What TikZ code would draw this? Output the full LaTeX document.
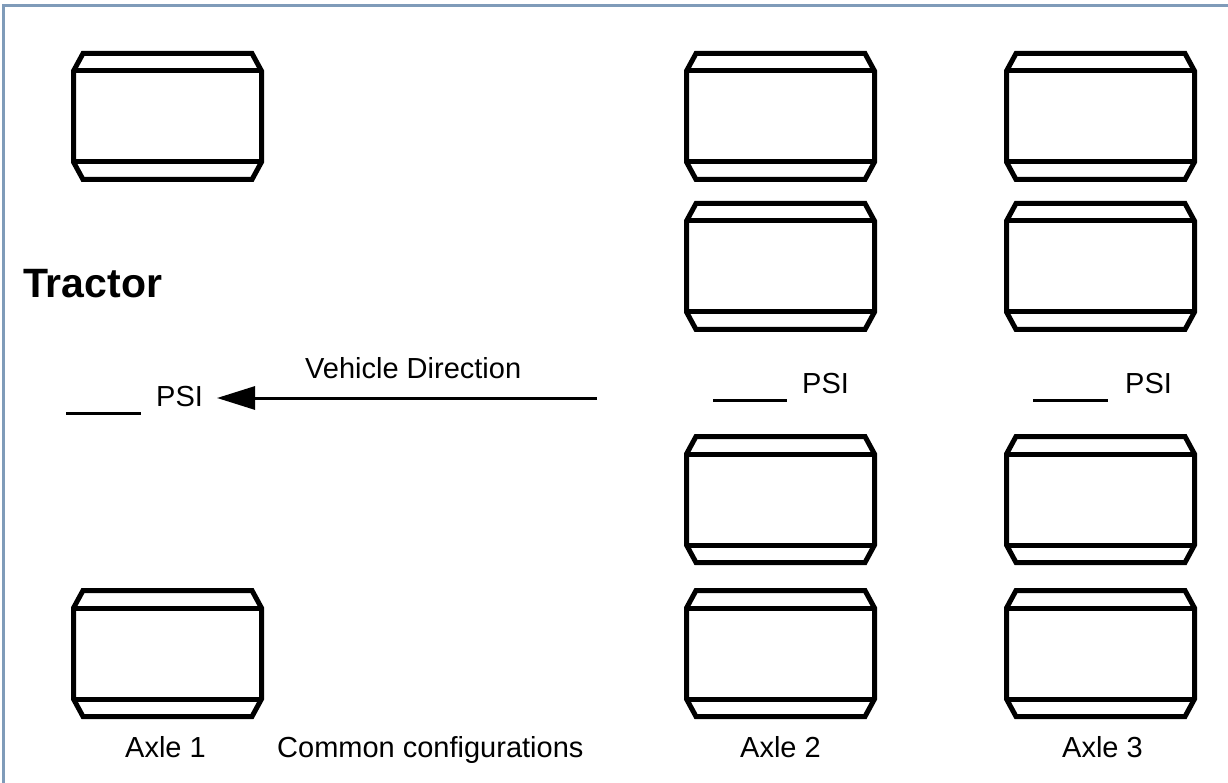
\documentclass[tikz,border=0pt]{standalone}
\usepackage{fontspec}
\setmainfont{Liberation Sans}
\usetikzlibrary{arrows.meta}
\definecolor{frameblue}{RGB}{127,155,185}
\tikzset{
  tireline/.style={line width=5pt, draw=black, line join=miter},
  lbl/.style={anchor=base west, inner sep=0pt, font=\fontsize{29}{34}\selectfont},
  blank/.style={line width=3pt},
  pics/tire/.style={code={
    \draw[tireline] (2.5,20) -- (12,2.5) -- (181,2.5) -- (190.5,20) -- (190.5,111)
      -- (181,128.5) -- (12,128.5) -- (2.5,111) -- cycle;
    \draw[tireline] (2.5,20) -- (190.5,20);
    \draw[tireline] (2.5,111) -- (190.5,111);
  }}
}
\begin{document}
\begin{tikzpicture}[x=1pt,y=-1pt]
\useasboundingbox (0,0) rectangle (1228,783);
% frame (top and left)
\draw[frameblue, line width=3pt] (3.5,783) -- (3.5,5.5) -- (1228,5.5);
% tyres
\pic at (71,51) {tire};
\pic at (71,588) {tire};
\pic at (684,51) {tire};
\pic at (684,201) {tire};
\pic at (684,434) {tire};
\pic at (684,588) {tire};
\pic at (1004,51) {tire};
\pic at (1004,201) {tire};
\pic at (1004,434) {tire};
\pic at (1004,588) {tire};
% texts
\node[anchor=base west, inner sep=0pt, font=\fontsize{41}{48}\selectfont\bfseries] (tractor) at (23,298) {Tractor};
\node[lbl] (vdir) at (305,378) {Vehicle Direction};
\node[lbl] (psi1) at (156,406) {PSI};
\node[lbl] (psi2) at (802,393) {PSI};
\node[lbl] (psi3) at (1125,393) {PSI};
\node[lbl] (axle1) at (125,757) {Axle 1};
\node[lbl] (common) at (277,757) {Common configurations};
\node[lbl] (axle2) at (740,757) {Axle 2};
\node[lbl] (axle3) at (1062,757) {Axle 3};
% blanks
\coordinate (b1s) at (66,413); \coordinate (b1e) at (141,413);
\coordinate (b2s) at (713,400); \coordinate (b2e) at (787,400);
\coordinate (b3s) at (1033,400); \coordinate (b3e) at (1108,400);
\draw[blank] (b1s) -- (b1e);
\draw[blank] (b2s) -- (b2e);
\draw[blank] (b3s) -- (b3e);
% direction arrow
\coordinate (arrS) at (597,398);
\coordinate (arrE) at (217,398);
\draw[line width=3pt, -{Triangle[length=38pt, width=23pt]}] (arrS) -- (arrE);
\end{tikzpicture}
\end{document}
